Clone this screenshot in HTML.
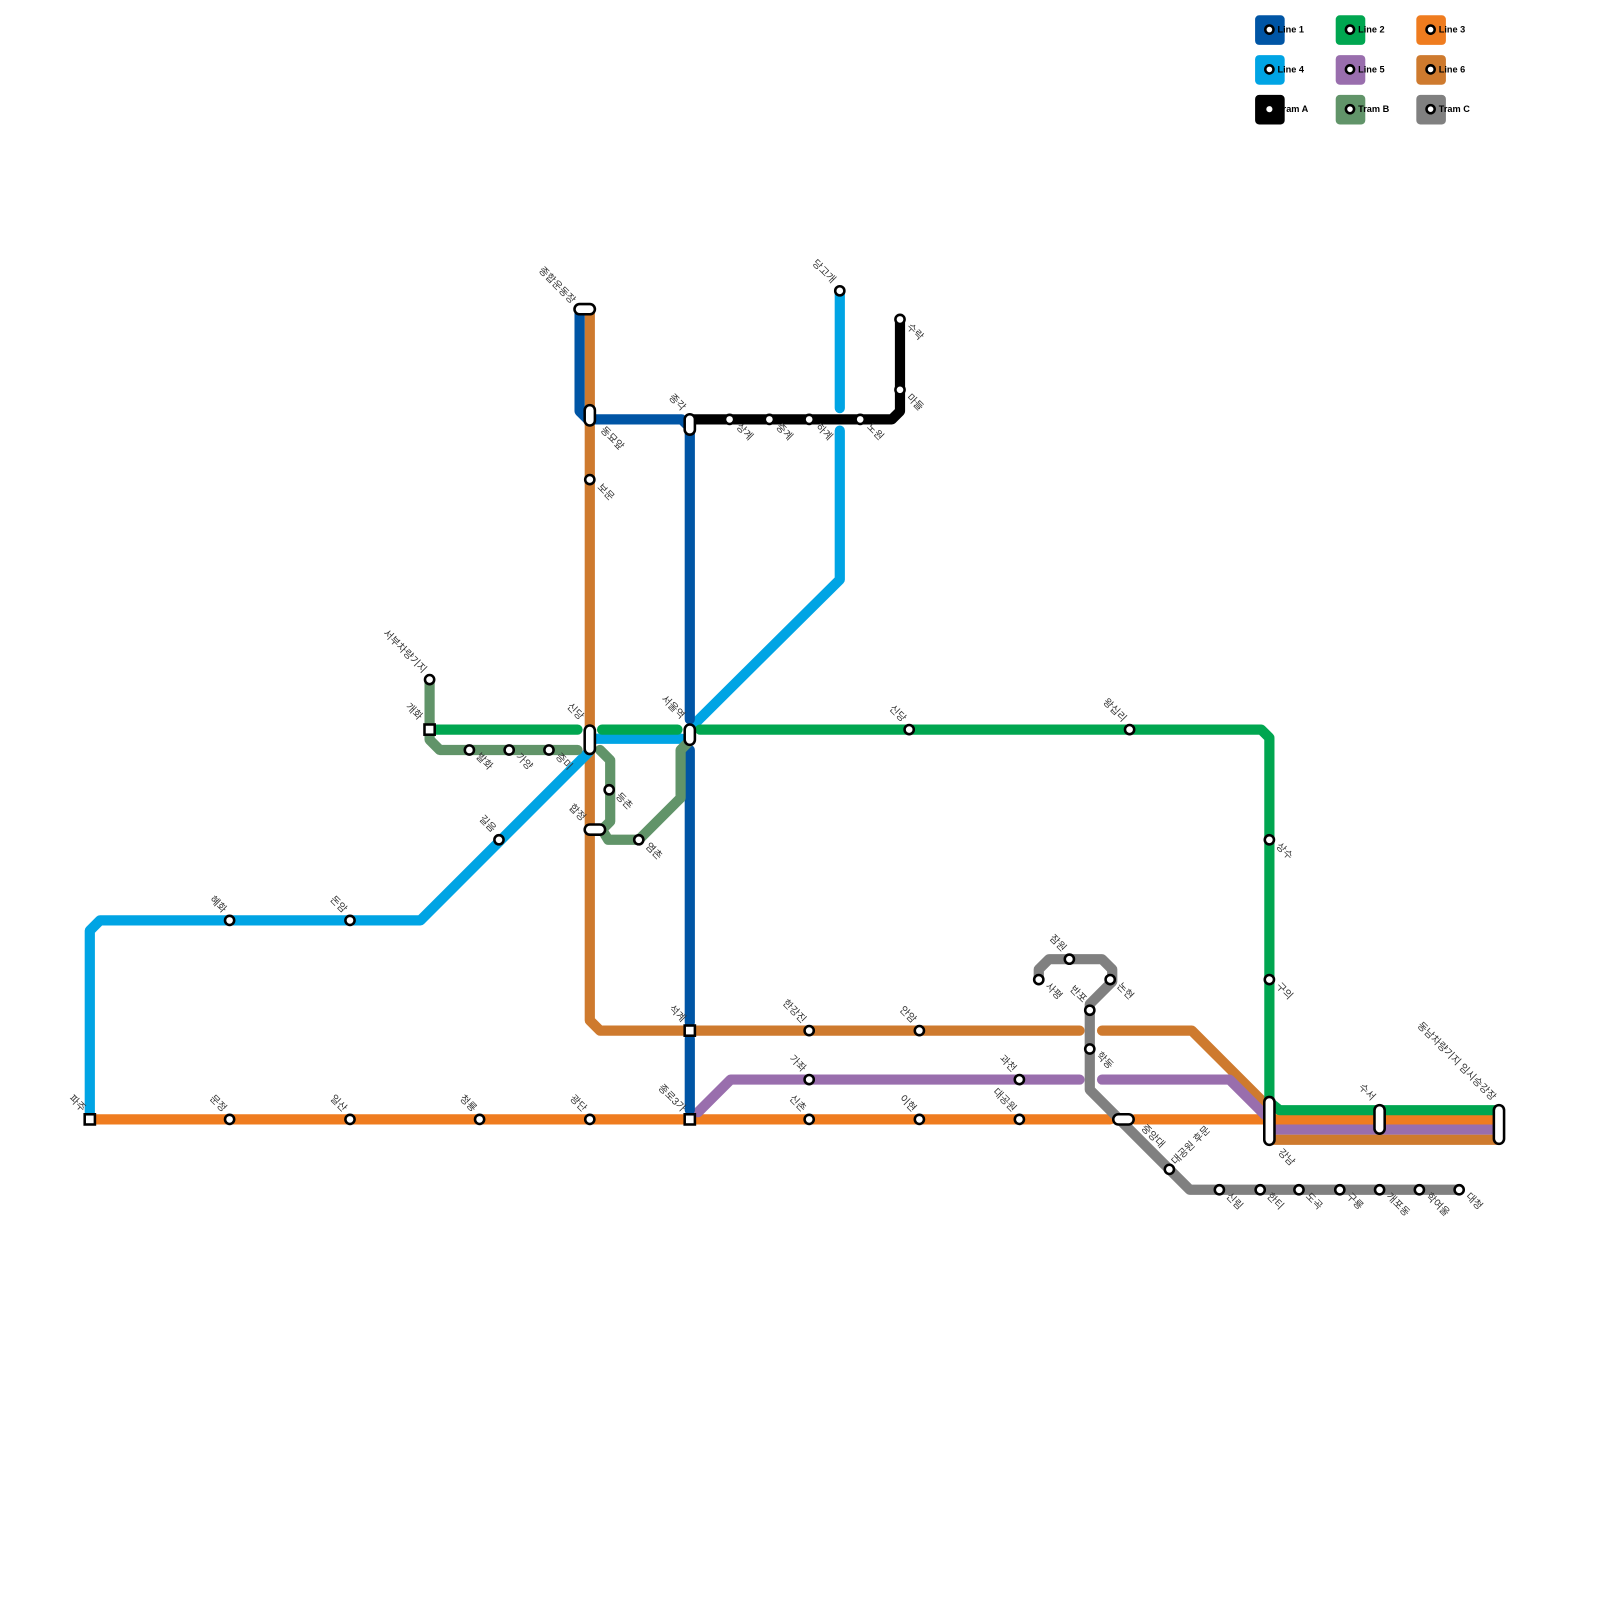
<!DOCTYPE html>
<html><head><meta charset="utf-8"><style>
html,body{margin:0;padding:0;background:#fff;}
svg{display:block;}
text{font-family:"Liberation Sans","Noto Sans CJK KR",sans-serif;font-size:10px;fill:#333;}
.lg{font-size:9px;font-weight:bold;fill:#000;}
</style></head><body>
<svg width="1600" height="1600" viewBox="0 0 1600 1600" xmlns="http://www.w3.org/2000/svg">
<g transform="scale(1.0204)">
<g fill="none" stroke-width="10" stroke-linecap="round" stroke-linejoin="round">
<polyline stroke="#ce7a2e" points="1244,1117 1468,1117"/>
<polyline stroke="#996ead" points="1244,1107 1468,1107"/>
<polyline stroke="#ef7c1f" points="1244,1097 1468,1097"/>
<polyline stroke="#ce7a2e" points="578,303 578,1000 588,1010 1058,1010"/>
<polyline stroke="#ce7a2e" points="1080,1010 1168,1010 1240,1082"/>
<polyline stroke="#00a4e4" points="88,1090 88,912 98,902 412,902 578,736"/>
<polyline stroke="#00a4e4" points="583,724 668,724"/>
<polyline stroke="#00a4e4" points="682,708 823,568 823,422"/>
<polyline stroke="#00a4e4" points="823,400 823,285"/>
<polyline stroke="#00a650" points="428,715 566,715"/>
<polyline stroke="#00a650" points="590,715 664,715"/>
<polyline stroke="#00a650" points="686,715 1236,715 1244,723 1244,1080 1254,1088 1468,1088"/>
<polyline stroke="#ef7c1f" points="88,1097 1088,1097"/>
<polyline stroke="#ef7c1f" points="1112,1097 1244,1097"/>
<polyline stroke="#996ead" points="684,1090 716,1058 1058,1058"/>
<polyline stroke="#996ead" points="1080,1058 1205,1058 1240,1093"/>
<polyline stroke="#0055a5" points="568,303 568,403 576,411 668,411 676,419 676,705"/>
<polyline stroke="#0055a5" points="676,735 676,1002"/>
<polyline stroke="#0055a5" points="676,1018 676,1088"/>
<polyline stroke="#000" points="676,411 874,411 882,403 882,313"/>
<polyline stroke="#619469" points="421,666 421,725 431,735 566,735"/>
<polyline stroke="#619469" points="588,735 598,745 598,805 590,813 596,823 626,823 667,782 667,735 676,726"/>
<polyline stroke="#808080" points="1018,960 1018,950 1028,940 1080,940 1090,950 1090,962 1068,984 1068,1068 1166,1166 1430,1166"/>
</g>
<g fill="#fff" stroke="#000" stroke-width="2.5">
<circle cx="578" cy="470" r="4.5"/><circle cx="715" cy="411" r="4.5"/><circle cx="754" cy="411" r="4.5"/><circle cx="793" cy="411" r="4.5"/><circle cx="843" cy="411" r="4.5"/><circle cx="882" cy="313" r="4.5"/><circle cx="882" cy="382" r="4.5"/><circle cx="823" cy="285" r="4.5"/>
<circle cx="421" cy="666" r="4.5"/><circle cx="460" cy="735" r="4.5"/><circle cx="499" cy="735" r="4.5"/><circle cx="538" cy="735" r="4.5"/><circle cx="597" cy="774" r="4.5"/><circle cx="626" cy="823" r="4.5"/><circle cx="489" cy="823" r="4.5"/>
<circle cx="225" cy="902" r="4.5"/><circle cx="343" cy="902" r="4.5"/><circle cx="891" cy="715" r="4.5"/><circle cx="1107" cy="715" r="4.5"/><circle cx="1244" cy="823" r="4.5"/><circle cx="1244" cy="960" r="4.5"/>
<circle cx="793" cy="1010" r="4.5"/><circle cx="901" cy="1010" r="4.5"/><circle cx="793" cy="1058" r="4.5"/><circle cx="999" cy="1058" r="4.5"/><circle cx="793" cy="1097" r="4.5"/><circle cx="901" cy="1097" r="4.5"/><circle cx="999" cy="1097" r="4.5"/>
<circle cx="225" cy="1097" r="4.5"/><circle cx="343" cy="1097" r="4.5"/><circle cx="470" cy="1097" r="4.5"/><circle cx="578" cy="1097" r="4.5"/>
<circle cx="1018" cy="960" r="4.5"/><circle cx="1048" cy="940" r="4.5"/><circle cx="1088" cy="960" r="4.5"/><circle cx="1068" cy="990" r="4.5"/><circle cx="1068" cy="1028" r="4.5"/><circle cx="1146" cy="1146" r="4.5"/>
<circle cx="1195" cy="1166" r="4.5"/><circle cx="1235" cy="1166" r="4.5"/><circle cx="1273" cy="1166" r="4.5"/><circle cx="1313" cy="1166" r="4.5"/><circle cx="1352" cy="1166" r="4.5"/><circle cx="1391" cy="1166" r="4.5"/><circle cx="1430" cy="1166" r="4.5"/>
<rect x="563" y="298" width="20" height="10" rx="5"/>
<rect x="573" y="397" width="10" height="20" rx="5"/>
<rect x="671" y="406" width="10" height="20" rx="5"/>
<rect x="573" y="711" width="10" height="28" rx="5"/>
<rect x="671" y="710" width="10" height="20" rx="5"/>
<rect x="573" y="808" width="20" height="10" rx="5"/>
<rect x="1091" y="1092" width="20" height="10" rx="5"/>
<rect x="1239" y="1075" width="10" height="47" rx="5"/>
<rect x="1347" y="1083" width="10" height="28" rx="5"/>
<rect x="1464" y="1083" width="10" height="38" rx="5"/>
<rect x="671" y="1005" width="10" height="10"/>
<rect x="671" y="1092" width="10" height="10"/>
<rect x="83" y="1092" width="10" height="10"/>
<rect x="416" y="710" width="10" height="10"/>
</g>
<g text-anchor="end">
<text transform="translate(560,298) rotate(45)">종합운동장</text>
<text transform="translate(668,403) rotate(45)">종각</text>
<text transform="translate(815,278) rotate(45)">당고개</text>
<text transform="translate(414,660) rotate(45)">서부차량기지</text>
<text transform="translate(410,706) rotate(45)">개화</text>
<text transform="translate(568,706) rotate(45)">신당</text>
<text transform="translate(667,705) rotate(45)">서울역</text>
<text transform="translate(482,816) rotate(45)">길음</text>
<text transform="translate(570,805) rotate(45)">합정</text>
<text transform="translate(218,895) rotate(45)">혜화</text>
<text transform="translate(336,895) rotate(45)">돈암</text>
<text transform="translate(884,708) rotate(45)">신당</text>
<text transform="translate(1100,708) rotate(45)">왕십리</text>
<text transform="translate(80,1090) rotate(45)">파주</text>
<text transform="translate(218,1090) rotate(45)">문정</text>
<text transform="translate(336,1090) rotate(45)">일산</text>
<text transform="translate(463,1090) rotate(45)">청룡</text>
<text transform="translate(571,1090) rotate(45)">광단</text>
<text transform="translate(668,1090) rotate(45)">종로3가</text>
<text transform="translate(668,1002) rotate(45)">석계</text>
<text transform="translate(786,1003) rotate(45)">한강진</text>
<text transform="translate(894,1003) rotate(45)">안암</text>
<text transform="translate(786,1051) rotate(45)">가좌</text>
<text transform="translate(992,1051) rotate(45)">과천</text>
<text transform="translate(786,1090) rotate(45)">신촌</text>
<text transform="translate(894,1090) rotate(45)">이현</text>
<text transform="translate(992,1090) rotate(45)">대공원</text>
<text transform="translate(1041,933) rotate(45)">잠원</text>
<text transform="translate(1061,983) rotate(45)">반포</text>
<text transform="translate(1344,1079) rotate(45)">수서</text>
<text transform="translate(1462,1079) rotate(45)">동남차량기지 임시승강장</text>
</g>
<g>
<text transform="translate(588,422) rotate(45)">동묘앞</text>
<text transform="translate(585,478) rotate(45)">보문</text>
<text transform="translate(721,419) rotate(45)">상계</text>
<text transform="translate(760,419) rotate(45)">중계</text>
<text transform="translate(799,419) rotate(45)">하계</text>
<text transform="translate(849,419) rotate(45)">노원</text>
<text transform="translate(888,321) rotate(45)">수락</text>
<text transform="translate(888,390) rotate(45)">마들</text>
<text transform="translate(466,742) rotate(45)">발화</text>
<text transform="translate(505,742) rotate(45)">가양</text>
<text transform="translate(544,742) rotate(45)">증미</text>
<text transform="translate(603,781) rotate(45)">등촌</text>
<text transform="translate(632,830) rotate(45)">염촌</text>
<text transform="translate(1250,830) rotate(45)">상수</text>
<text transform="translate(1250,967) rotate(45)">구의</text>
<text transform="translate(1024,967) rotate(45)">사평</text>
<text transform="translate(1094,967) rotate(45)">논현</text>
<text transform="translate(1074,1035) rotate(45)">학동</text>
<text transform="translate(1118,1106) rotate(45)">중앙대</text>
<text transform="translate(1252,1130) rotate(45)">강남</text>
<text transform="translate(1201,1173) rotate(45)">신림</text>
<text transform="translate(1241,1173) rotate(45)">한티</text>
<text transform="translate(1279,1173) rotate(45)">도곡</text>
<text transform="translate(1319,1173) rotate(45)">구룡</text>
<text transform="translate(1358,1173) rotate(45)">개포동</text>
<text transform="translate(1397,1173) rotate(45)">학여울</text>
<text transform="translate(1436,1173) rotate(45)">대청</text>
<text transform="translate(1152,1142) rotate(-45)">대공원 후문</text>
</g>
<g>
<rect x="1230" y="15" width="29" height="29" rx="4" fill="#0055a5"/>
<rect x="1309" y="15" width="29" height="29" rx="4" fill="#00a650"/>
<rect x="1388" y="15" width="29" height="29" rx="4" fill="#ef7c1f"/>
<rect x="1230" y="54" width="29" height="29" rx="4" fill="#00a4e4"/>
<rect x="1309" y="54" width="29" height="29" rx="4" fill="#996ead"/>
<rect x="1388" y="54" width="29" height="29" rx="4" fill="#ce7a2e"/>
<rect x="1230" y="93" width="29" height="29" rx="4" fill="#000"/>
<rect x="1309" y="93" width="29" height="29" rx="4" fill="#619469"/>
<rect x="1388" y="93" width="29" height="29" rx="4" fill="#808080"/>
<g fill="#fff" stroke="#000" stroke-width="2.5">
<circle cx="1244" cy="29" r="4"/><circle cx="1323" cy="29" r="4"/><circle cx="1402" cy="29" r="4"/>
<circle cx="1244" cy="68" r="4"/><circle cx="1323" cy="68" r="4"/><circle cx="1402" cy="68" r="4"/>
<circle cx="1244" cy="107" r="3" stroke="none"/><circle cx="1323" cy="107" r="4"/><circle cx="1402" cy="107" r="4"/>
</g>
<text class="lg" x="1252" y="32">Line 1</text>
<text class="lg" x="1331" y="32">Line 2</text>
<text class="lg" x="1410" y="32">Line 3</text>
<text class="lg" x="1252" y="71">Line 4</text>
<text class="lg" x="1331" y="71">Line 5</text>
<text class="lg" x="1410" y="71">Line 6</text>
<text class="lg" x="1252" y="110">Tram A</text>
<text class="lg" x="1331" y="110">Tram B</text>
<text class="lg" x="1410" y="110">Tram C</text>
</g>
</g>
</svg>
</body></html>
